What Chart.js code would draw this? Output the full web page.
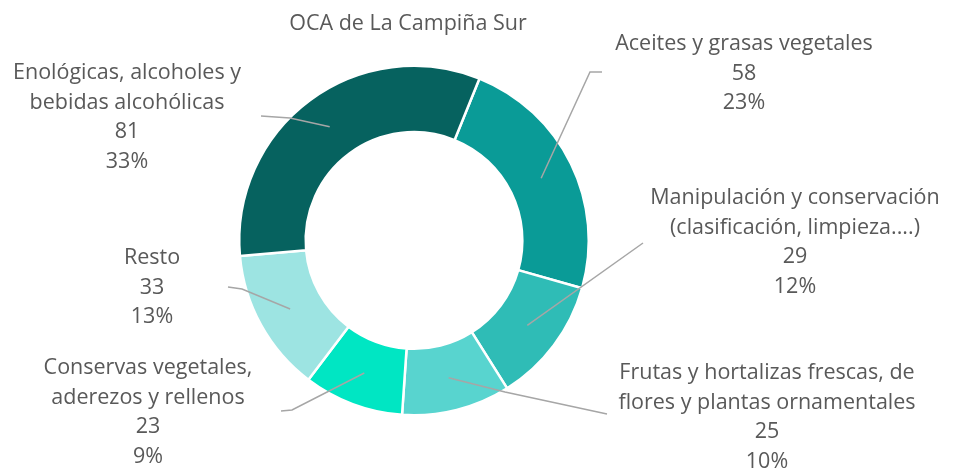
<!DOCTYPE html>
<html>
<head>
<meta charset="utf-8">
<script src="https://cdn.jsdelivr.net/npm/chart.js@4/dist/chart.umd.min.js"></script>
<style>
  html, body { margin: 0; padding: 0; background: #fff; }
  #wrap { width: 963px; height: 473px; position: relative; }
</style>
</head>
<body>
<div id="wrap"><canvas id="oca"></canvas></div>
<script>
/* ── DATA ─────────────────────────────────── */
const TITLE = 'OCA de La Campiña Sur';
const categories = [
  ['Aceites y grasas vegetales'],
  ['Manipulación y conservación', '(clasificación, limpieza....)'],
  ['Frutas y hortalizas frescas, de', 'flores y plantas ornamentales'],
  ['Conservas vegetales,', 'aderezos y rellenos'],
  ['Resto'],
  ['Enológicas, alcoholes y', 'bebidas alcohólicas']
];
const values = [58, 29, 25, 23, 33, 81];
const colors = ['#0a9b97', '#2fbcb6', '#58d4cf', '#00e6c3', '#9de4e2', '#06625f'];

/* ── LAYOUT (label boxes + leader lines) ──── */
const TEXT_COLOR = '#595959';
const LINE_COLOR = '#a6a6a6';
const FONT = '21.5px "Open Sans"';
const LINE_H = 29.5;
const labelLayout = [
  { cx: 744, y: 44,  elbow: [590, 72],  end: [602, 72] },
  { cx: 795, y: 198, elbow: null,       end: [643, 243] },
  { cx: 767, y: 373, elbow: [505, 392], end: [607, 414] },
  { cx: 148, y: 368, elbow: [292, 410], end: [281, 411] },
  { cx: 152, y: 258, elbow: [242, 289], end: [228, 287] },
  { cx: 127, y: 73,  elbow: [290, 118], end: [261, 116] }
];

const total = values.reduce((a, b) => a + b, 0);

/* ── PLUGIN: title, leaders, labels ───────── */
const calloutPlugin = {
  id: 'callouts',
  afterDraw(chart) {
    const ctx = chart.ctx;
    const arcs = chart.getDatasetMeta(0).data;
    ctx.save();

    // title
    ctx.fillStyle = TEXT_COLOR;
    ctx.font = FONT;
    ctx.textAlign = 'center';
    ctx.textBaseline = 'middle';
    ctx.fillText(TITLE, 408, 24);

    arcs.forEach((arc, i) => {
      const p = arc.getProps(['x', 'y', 'startAngle', 'endAngle', 'innerRadius', 'outerRadius'], true);
      const mid = (p.startAngle + p.endAngle) / 2;
      const r = (p.innerRadius + p.outerRadius) / 2;
      const ax = p.x + Math.cos(mid) * r;
      const ay = p.y + Math.sin(mid) * r;
      const lay = labelLayout[i];

      // leader line
      ctx.strokeStyle = LINE_COLOR;
      ctx.lineWidth = 1.5;
      ctx.beginPath();
      ctx.moveTo(ax, ay);
      if (lay.elbow) ctx.lineTo(lay.elbow[0], lay.elbow[1]);
      ctx.lineTo(lay.end[0], lay.end[1]);
      ctx.stroke();

      // text
      const pct = Math.round(values[i] / total * 100) + '%';
      const lines = categories[i].concat([String(values[i]), pct]);
      ctx.fillStyle = TEXT_COLOR;
      lines.forEach((t, k) => ctx.fillText(t, lay.cx, lay.y + k * LINE_H));
    });
    ctx.restore();
  }
};

/* ── CHART ────────────────────────────────── */
new Chart(document.getElementById('oca'), {
  type: 'doughnut',
  data: {
    labels: categories,
    datasets: [{
      data: values,
      backgroundColor: colors,
      borderColor: '#ffffff',
      borderWidth: 2.5
    }]
  },
  options: {
    responsive: true,
    maintainAspectRatio: false,
    animation: false,
    cutout: '62%',
    rotation: 22,
    layout: { padding: { top: 64, bottom: 56, left: 238, right: 373 } },
    plugins: {
      legend: { display: false },
      tooltip: { enabled: false }
    }
  },
  plugins: [calloutPlugin]
});
</script>
</body>
</html>
